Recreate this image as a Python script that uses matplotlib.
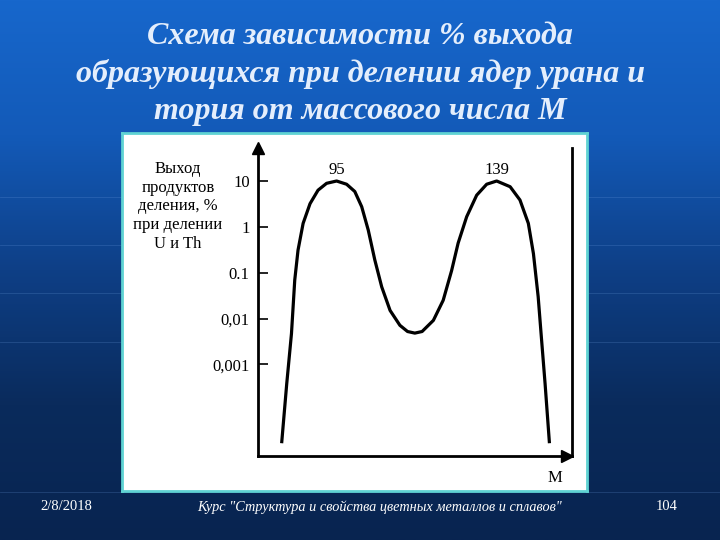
import numpy as np
import matplotlib
matplotlib.use("Agg")
import matplotlib.pyplot as plt
from matplotlib.colors import LinearSegmentedColormap

# mass number M and fission yield (%)
mass = [79.9, 81.3, 82.6, 83.5, 84.4, 85.8, 87.7, 89.9, 92.25, 95.0,
        97.75, 100.0, 101.9, 103.7, 105.5, 107.4, 109.7, 112.4, 114.5,
        116.5, 118.5, 121.6, 124.3, 126.6, 128.4, 130.75, 133.5, 136.25,
        139.0, 142.7, 145.4, 147.7, 149.1, 150.4, 151.2, 152.3, 153.5]
yield_pct = [1.9e-5, 3.8e-4, 4.7e-3, 0.069, 0.31, 1.19, 3.2, 6.3, 8.9, 10.0,
             8.5, 5.9, 2.75, 0.85, 0.19, 0.049, 0.015, 0.0071, 0.0052,
             0.0048, 0.0052, 0.0091, 0.025, 0.11, 0.44, 1.66, 4.9, 8.5,
             10.0, 7.5, 3.85, 1.19, 0.26, 0.030, 0.0047, 3.8e-4, 1.9e-5]

peaks = [95, 139]
tick_vals = [10, 1, 0.1, 0.01, 0.001]
tick_labels = ["10", "1", "0.1", "0,01", "0,001"]

title = ("Схема зависимости % выхода\n"
         "образующихся при делении ядер урана и\n"
         "тория от массового числа М")
ylabel = "Выход\nпродуктов\nделения, %\nпри делении\nU и Th"
footer_date = "2/8/2018"
footer_course = 'Курс "Структура и свойства цветных металлов и сплавов"'
footer_page = "104"

W, H = 720, 540
fig = plt.figure(figsize=(7.2, 5.4), dpi=100)

# slide background: blue vertical gradient
bg = fig.add_axes([0, 0, 1, 1], zorder=-10)
cmap = LinearSegmentedColormap.from_list(
    "slide", ["#1767cc", "#135ab8", "#0e3f86", "#0a2b5c", "#082450"])
bg.imshow(np.linspace(0, 1, 256).reshape(-1, 1), aspect="auto", cmap=cmap,
          extent=[0, 1, 0, 1], origin="upper")
for yy in [197, 245, 293, 342, 492]:
    bg.axhline(1 - yy / H, color="#6fa0e0", lw=0.6, alpha=0.25)
bg.set_xlim(0, 1)
bg.set_ylim(0, 1)
bg.axis("off")

serif = ["Liberation Serif", "DejaVu Serif"]

fig.text(0.5, 1 - 74 / H, title, ha="center", va="center", color="#e4eefc",
         family=serif, style="italic", weight="bold", fontsize=23,
         linespacing=1.34)

# white picture box
box = fig.add_axes([122 / W, 1 - 491 / H, 465 / W, 358 / H], zorder=-5)
box.set_facecolor("white")
box.set_xticks([])
box.set_yticks([])
for sp in box.spines.values():
    sp.set_color("#5fd3d3")
    sp.set_linewidth(2)

ax = fig.add_axes([258 / W, 1 - 456 / H, 314 / W, 308 / H], zorder=5)
ax.set_facecolor("none")
ax.set_yscale("log")
ax.plot(mass, yield_pct, color="black", lw=2.3, solid_capstyle="butt",
        solid_joinstyle="round")
ax.set_xlim(73.4, 159.7)
ax.set_ylim(1e-5, 10 ** 1.72)

ax.spines["top"].set_visible(False)
for side in ["left", "bottom", "right"]:
    ax.spines[side].set_linewidth(2)
ax.set_xticks([])
ax.set_yticks(tick_vals)
ax.set_yticklabels(tick_labels)
ax.yaxis.set_minor_locator(matplotlib.ticker.NullLocator())
ax.tick_params(axis="y", direction="in", length=7, width=1.2, pad=6,
               labelsize=12)
for lab in ax.get_yticklabels():
    lab.set_family(serif)

# axis arrows
ax.plot(0, 1, marker="^", ms=8, color="black", transform=ax.transAxes,
        clip_on=False)
ax.plot(0.985, 0, marker=">", ms=8, color="black", transform=ax.transAxes,
        clip_on=False)

for p in peaks:
    ax.annotate(str(p), (p, 10), xytext=(0, 2), textcoords="offset points",
                ha="center", va="bottom", family=serif, fontsize=12)
ax.text(0.945, -0.07, "M", transform=ax.transAxes, ha="center", va="center",
        family=serif, fontsize=12)

fig.text(178 / W, 1 - 161 / H, ylabel, ha="center", va="top", family=serif,
         fontsize=12, linespacing=1.22)

fig.text(66 / W, 1 - 507 / H, footer_date, ha="center", va="center",
         color="white", family=serif, fontsize=10.5)
fig.text(380 / W, 1 - 507 / H, footer_course, ha="center", va="center",
         color="white", family=serif, style="italic", fontsize=10.3)
fig.text(667 / W, 1 - 507 / H, footer_page, ha="center", va="center",
         color="white", family=serif, fontsize=10.5)

fig.savefig("out.png", dpi=100)
